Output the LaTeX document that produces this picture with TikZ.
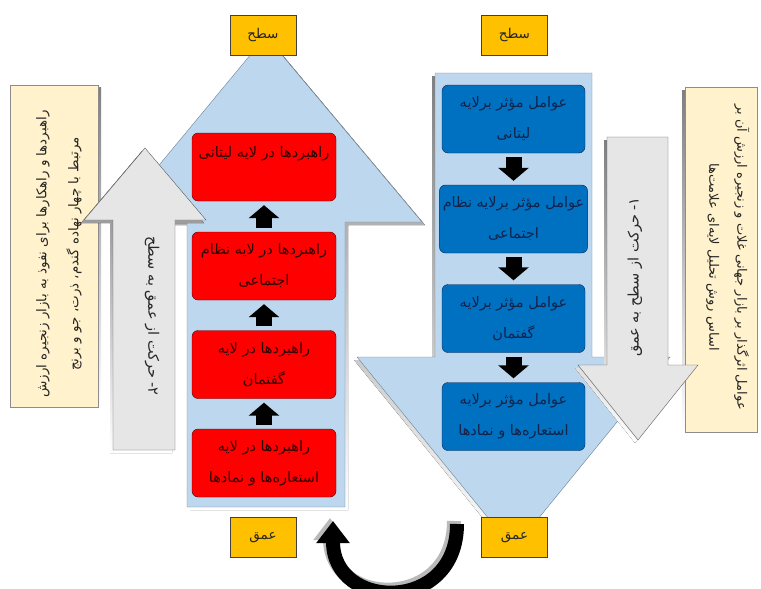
\documentclass[tikz,border=0pt]{standalone}
\usepackage{fontspec}
\newfontfamily\arabicfont[Script=Arabic]{DejaVu Sans}
\TeXXeTstate=1
\usetikzlibrary{arrows.meta}
\newcommand{\fa}[1]{{\arabicfont\beginR #1\endR}}
\definecolor{skyfill}{RGB}{189,215,238}
\definecolor{skyline}{RGB}{110,130,150}
\definecolor{greyfill}{RGB}{231,230,230}
\definecolor{greyline}{RGB}{90,90,90}
\definecolor{shade}{RGB}{140,140,140}
\definecolor{boxblue}{RGB}{0,112,192}
\definecolor{navy}{RGB}{20,35,75}
\definecolor{tagyellow}{RGB}{255,192,0}
\definecolor{cream}{RGB}{255,242,204}

\begin{document}
\begin{tikzpicture}[x=1pt,y=-1pt,font=\fontsize{14.5}{31}\selectfont,
 redbox/.style={draw=red!35!black,fill=red,rounded corners=6pt,minimum width=144pt,minimum height=68pt,align=center,text=red!20!black},
 bluebox/.style={draw=navy,fill=boxblue,rounded corners=6pt,minimum width=143pt,minimum height=68pt,align=center,text=navy},
 tag/.style={draw=black!75,fill=tagyellow,minimum width=66pt,minimum height=40pt,text=black!85,font=\fontsize{13.5}{16}\selectfont},
 note/.style={draw=shade,fill=cream},
 side/.style={align=center,text=black!85},
 link/.style={line width=16pt,-{Triangle[length=13pt,width=30pt]},shorten <=4pt,shorten >=4pt},
 turn/.style={line width=14pt,-{Triangle[length=22pt,width=32pt]}}]
\useasboundingbox (0,0) rectangle (761,589);
% side notes
\fill[shade] (13,87) rectangle (101,409);
\draw[note] (10,85) rectangle (98,407);
\fill[shade] (682,90) rectangle (754,435);
\draw[note] (685,87) rectangle (757,432);
\node[side,rotate=90,font=\fontsize{13.4}{32}\selectfont] (noteL) at (59,254) {\fa{راهبردها و راهکارها برای نفوذ به بازار زنجیره ارزش}\\\fa{مرتبط با چهار نهاده گندم، ذرت، جو و برنج}};
\node[side,rotate=-90,font=\fontsize{13}{28}\selectfont] (noteR) at (728,257) {\fa{عوامل اثرگذار بر بازار جهانی غلات و زنجیره ارزش آن بر}\\\fa{اساس روش تحلیل لایه‌ای علامت‌ها}};
% big arrows
\fill[shade] (190,510) -- (190,225) -- (115,225) -- (269,39) -- (425,225) -- (348,225) -- (348,510) -- cycle;
\draw[skyline,fill=skyfill] (187,507) -- (187,222) -- (112,222) -- (266,36) -- (422,222) -- (345,222) -- (345,507) -- cycle;
\fill[shade] (432,76) -- (589,76) -- (589,360) -- (667,360) -- (510.5,552) -- (354,360) -- (432,360) -- cycle;
\draw[skyline,fill=skyfill] (435,73) -- (592,73) -- (592,357) -- (670,357) -- (513.5,549) -- (357,357) -- (435,357) -- cycle;
\fill[shade] (110,453) -- (110,223) -- (81,223) -- (142,151) -- (204,223) -- (172,223) -- (172,453) -- cycle;
\draw[greyline,fill=greyfill] (113,450) -- (113,220) -- (84,220) -- (145,148) -- (206,220) -- (175,220) -- (175,450) -- cycle;
\fill[shade] (604,140) -- (665,140) -- (665,368) -- (695,368) -- (635,443) -- (575,368) -- (604,368) -- cycle;
\draw[greyline,fill=greyfill] (607,137) -- (668,137) -- (668,365) -- (698,365) -- (638,440) -- (578,365) -- (607,365) -- cycle;
\node[side,rotate=-90] (upnote) at (152,316) {\fa{۲- حرکت از عمق به سطح}};
\node[side,rotate=90] (downnote) at (635,277) {\fa{۱- حرکت از سطح به عمق}};
% layers
\node[redbox] (r1) at (264,167) {\fa{راهبردها در لایه لیتانی}\\\mbox{}};
\node[redbox] (r2) at (264,266) {\fa{راهبردها در لایه نظام}\\\fa{اجتماعی}};
\node[redbox] (r3) at (264,364.5) {\fa{راهبردها در لایه}\\\fa{گفتمان}};
\node[redbox] (r4) at (264,463) {\fa{راهبردها در لایه}\\\fa{استعاره‌ها و نمادها}};
\node[bluebox] (b1) at (513.5,119) {\fa{عوامل مؤثر برلایه}\\\fa{لیتانی}};
\node[bluebox] (b2) at (513.5,219) {\fa{عوامل مؤثر برلایه نظام}\\\fa{اجتماعی}};
\node[bluebox] (b3) at (513.5,318.5) {\fa{عوامل مؤثر برلایه}\\\fa{گفتمان}};
\node[bluebox] (b4) at (513.5,416.5) {\fa{عوامل مؤثر برلایه}\\\fa{استعاره‌ها و نمادها}};
\foreach \a/\b in {r2/r1,r3/r2,r4/r3} \draw[link] (\a.north) -- (\b.south);
\foreach \a/\b in {b1/b2,b2/b3,b3/b4} \draw[link] (\a.south) -- (\b.north);
% turn back
\coordinate (turnfrom) at (457,524);
\coordinate (turnto) at (333,521);
\draw[turn,shade!60] ([xshift=-3pt,yshift=3pt]turnfrom) .. controls +(0,90) and +(0,90) .. ([xshift=-3pt,yshift=3pt]turnto);
\draw[turn] (turnfrom) .. controls +(0,90) and +(0,90) .. (turnto);
% tags
\node[tag] (topL) at (263,35) {\fa{سطح}};
\node[tag] (topR) at (514.5,35) {\fa{سطح}};
\node[tag] (botL) at (263,537.5) {\fa{عمق}};
\node[tag] (botR) at (514.5,537.5) {\fa{عمق}};
\end{tikzpicture}
\end{document}
